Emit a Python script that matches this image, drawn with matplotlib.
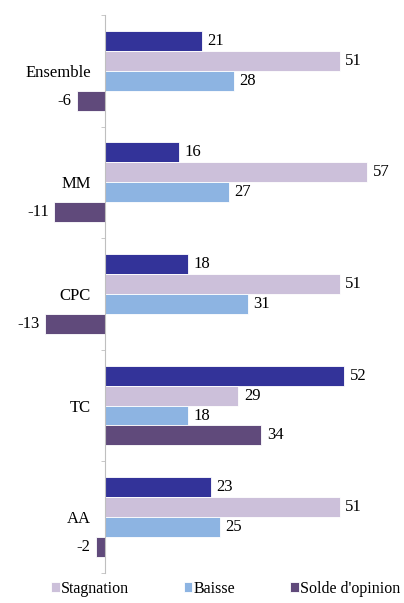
import matplotlib.pyplot as plt
import numpy as np

categories = ["Ensemble", "MM", "CPC", "TC", "AA"]
hausse = [21, 16, 18, 52, 23]
stagnation = [51, 57, 51, 29, 51]
baisse = [28, 27, 31, 18, 25]
solde = [-6, -11, -13, 34, -2]

plt.rcParams['font.family'] = ['Liberation Serif', 'DejaVu Serif']

fig = plt.figure(figsize=(4.04, 6.03), dpi=100)
ax = fig.add_axes([0.032, 0.05, 0.911, 0.925])

y = np.arange(len(categories))
h = 0.179
series = [
    (hausse, "#333399", None),
    (stagnation, "#CCC0DA", "Stagnation"),
    (baisse, "#8DB4E2", "Baisse"),
    (solde, "#604A7B", "Solde d'opinion"),
]
for i, (vals, col, lab) in enumerate(series):
    pos = y - 1.5 * h + i * h
    bars = ax.barh(pos, vals, height=h, color=col, edgecolor="white",
                   linewidth=0.6, label=lab if lab else "_nolegend_")
    ax.bar_label(bars, labels=[str(v) for v in vals], padding=4, fontsize=12)

ax.set_xlim(-20, 60)
ax.set_ylim(len(categories) - 0.5, -0.5)
ax.set_xticks([])
ax.set_yticks(y)
ax.set_yticklabels(categories, fontsize=12)
ax.tick_params(axis='y', which='major', length=0, pad=10, labelsize=12)
ax.set_yticks(np.arange(-0.5, len(categories), 1), minor=True)
ax.tick_params(axis='y', which='minor', length=3, color="#bfbfbf")

for s in ["top", "right", "bottom"]:
    ax.spines[s].set_visible(False)
ax.spines["left"].set_color("#bfbfbf")
ax.spines["left"].set_position(("data", 0))

ax.legend(loc="upper right", bbox_to_anchor=(1.075, 0.0), ncol=3, frameon=False,
          fontsize=11.5, handlelength=0.55, handleheight=0.55, handletextpad=0.1,
          columnspacing=3.4, borderaxespad=0.1)

fig.savefig("out.png", dpi=100)
